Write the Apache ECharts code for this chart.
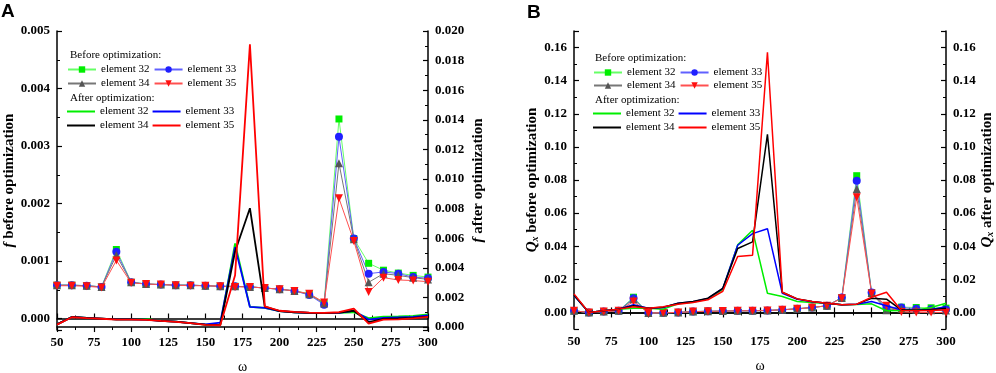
<!DOCTYPE html>
<html>
<head>
<meta charset="utf-8">
<script src="https://cdn.jsdelivr.net/npm/echarts@6/dist/echarts.min.js"></script>
<style>
  html, body { margin: 0; padding: 0; background: #fff; }
  #chart { width: 996px; height: 373px; }
</style>
</head>
<body>
<div id="chart"></div>
<script>
// angular frequency samples
const omega = [50, 60, 70, 80, 90, 100, 110, 120, 130, 140, 150, 160, 170, 180, 190, 200, 210, 220, 230, 240, 250, 260, 270, 280, 290, 300]

// panel A, f before optimization (left axis)
const fBefore32 = [0.00058, 0.00058, 0.00057, 0.00055, 0.00120, 0.00063, 0.00060, 0.00059, 0.00058, 0.00058, 0.00057, 0.00056, 0.00056, 0.00055, 0.00053, 0.00051, 0.00048, 0.00043, 0.00027, 0.00347, 0.00139, 0.00096, 0.00084, 0.00079, 0.00075, 0.00072]
const fBefore33 = [0.00058, 0.00058, 0.00057, 0.00055, 0.00116, 0.00063, 0.00060, 0.00059, 0.00058, 0.00058, 0.00057, 0.00056, 0.00056, 0.00055, 0.00053, 0.00051, 0.00048, 0.00041, 0.00024, 0.00316, 0.00139, 0.00078, 0.00081, 0.00078, 0.00072, 0.00070]
const fBefore34 = [0.00058, 0.00058, 0.00057, 0.00055, 0.00110, 0.00063, 0.00060, 0.00059, 0.00058, 0.00058, 0.00057, 0.00056, 0.00056, 0.00055, 0.00053, 0.00051, 0.00048, 0.00042, 0.00026, 0.00270, 0.00138, 0.00063, 0.00078, 0.00075, 0.00071, 0.00068]
const fBefore35 = [0.00057, 0.00057, 0.00056, 0.00054, 0.00101, 0.00062, 0.00060, 0.00059, 0.00058, 0.00057, 0.00057, 0.00056, 0.00055, 0.00055, 0.00053, 0.00051, 0.00048, 0.00043, 0.00028, 0.00209, 0.00135, 0.00046, 0.00071, 0.00067, 0.00066, 0.00064]

// panel A, f after optimization (right axis)
const fAfter32 = [0.00018, 0.00068, 0.00061, 0.00057, 0.00052, 0.00052, 0.00055, 0.00042, 0.00036, 0.00027, 0.00016, 0.00016, 0.00565, 0.00136, 0.00129, 0.00108, 0.00100, 0.00096, 0.00094, 0.00096, 0.00100, 0.00060, 0.00070, 0.00072, 0.00075, 0.00085]
const fAfter33 = [0.00018, 0.00068, 0.00061, 0.00057, 0.00052, 0.00052, 0.00050, 0.00042, 0.00036, 0.00027, 0.00018, 0.00030, 0.00540, 0.00136, 0.00129, 0.00108, 0.00100, 0.00096, 0.00094, 0.00096, 0.00110, 0.00050, 0.00062, 0.00065, 0.00068, 0.00078]
const fAfter34 = [0.00018, 0.00068, 0.00061, 0.00057, 0.00052, 0.00052, 0.00050, 0.00042, 0.00036, 0.00027, 0.00016, 0.00014, 0.00510, 0.00803, 0.00138, 0.00108, 0.00100, 0.00096, 0.00094, 0.00097, 0.00110, 0.00034, 0.00055, 0.00058, 0.00062, 0.00070]
const fAfter35 = [0.00016, 0.00066, 0.00060, 0.00056, 0.00050, 0.00050, 0.00049, 0.00041, 0.00035, 0.00026, 0.00014, 0.00012, 0.00350, 0.01910, 0.00140, 0.00110, 0.00102, 0.00098, 0.00096, 0.00100, 0.00125, 0.00023, 0.00050, 0.00052, 0.00058, 0.00068]

// panel B, Qx before optimization
const qBefore32 = [0.0010, 0.0000, 0.0006, 0.0010, 0.0092, -0.0004, -0.0002, 0.0000, 0.0005, 0.0007, 0.0008, 0.0010, 0.0010, 0.0012, 0.0016, 0.0022, 0.0030, 0.0040, 0.0090, 0.0826, 0.0120, 0.0020, 0.0032, 0.0030, 0.0028, 0.0026]
const qBefore33 = [0.0010, 0.0000, 0.0006, 0.0010, 0.0086, -0.0004, -0.0002, 0.0000, 0.0005, 0.0007, 0.0008, 0.0010, 0.0010, 0.0012, 0.0016, 0.0022, 0.0030, 0.0040, 0.0090, 0.0796, 0.0120, 0.0032, 0.0030, 0.0022, 0.0020, 0.0018]
const qBefore34 = [0.0010, 0.0000, 0.0006, 0.0010, 0.0080, -0.0004, -0.0002, 0.0000, 0.0005, 0.0007, 0.0008, 0.0010, 0.0010, 0.0012, 0.0016, 0.0022, 0.0030, 0.0040, 0.0088, 0.0746, 0.0118, 0.0014, 0.0022, 0.0016, 0.0014, 0.0012]
const qBefore35 = [0.0010, 0.0000, 0.0006, 0.0010, 0.0066, -0.0004, -0.0002, 0.0000, 0.0005, 0.0007, 0.0008, 0.0010, 0.0010, 0.0012, 0.0016, 0.0022, 0.0030, 0.0040, 0.0086, 0.0696, 0.0115, 0.0040, 0.0003, 0.0000, 0.0000, 0.0000]

// panel B, Qx after optimization
const qAfter32 = [0.0104, 0.0000, 0.0010, 0.0020, 0.0026, 0.0026, 0.0020, 0.0052, 0.0062, 0.0082, 0.0140, 0.0408, 0.0496, 0.0116, 0.0096, 0.0066, 0.0060, 0.0054, 0.0046, 0.0048, 0.0052, 0.0010, 0.0012, 0.0014, 0.0030, 0.0055]
const qAfter33 = [0.0102, 0.0000, 0.0010, 0.0020, 0.0046, 0.0026, 0.0030, 0.0055, 0.0064, 0.0085, 0.0145, 0.0406, 0.0476, 0.0506, 0.0116, 0.0080, 0.0064, 0.0056, 0.0046, 0.0050, 0.0066, 0.0040, 0.0014, 0.0012, 0.0016, 0.0036]
const qAfter34 = [0.0106, 0.0000, 0.0010, 0.0020, 0.0040, 0.0026, 0.0032, 0.0056, 0.0066, 0.0086, 0.0146, 0.0386, 0.0426, 0.1076, 0.0122, 0.0082, 0.0066, 0.0056, 0.0046, 0.0050, 0.0086, 0.0080, 0.0016, 0.0014, 0.0016, 0.0026]
const qAfter35 = [0.0112, 0.0000, 0.0010, 0.0020, 0.0035, 0.0026, 0.0035, 0.0050, 0.0060, 0.0076, 0.0128, 0.0338, 0.0346, 0.1572, 0.0122, 0.0082, 0.0066, 0.0056, 0.0046, 0.0050, 0.0092, 0.0122, 0.0012, 0.0010, 0.0012, 0.0016]

const elements = ['32', '33', '34', '35']

const SERIF = '"Liberation Serif", "Times New Roman", serif'
const colorsBefore = { '32': '#00ee00', '33': '#2020ff', '34': '#555555', '35': '#ff1010' }
const colorsAfter = { '32': '#00ee00', '33': '#0000ff', '34': '#000000', '35': '#ff0000' }
const lineBefore = { '32': '#66ff66', '33': '#6060ff', '34': '#777777', '35': '#ff5050' }
const symbols = { '32': 'rect', '33': 'circle', '34': 'triangle', '35': 'triangle' }

const pair = (ys) => omega.map((x, i) => [x, ys[i]])

const chart = echarts.init(document.getElementById('chart'))

const axisLine = { lineStyle: { color: '#000', width: 1.5 } }
const tick = { inside: true, length: 5, lineStyle: { color: '#000', width: 1.2 } }
const minor = { show: true, splitNumber: 2, length: 3, lineStyle: { color: '#000', width: 1 } }
const tickFont = { color: '#000', fontFamily: SERIF, fontWeight: 'bold', fontSize: 13 }
const nameFont = { color: '#000', fontFamily: SERIF, fontWeight: 'bold', fontSize: 15 }

function xAxisFor(grid, pos) {
  return {
    type: 'value', gridIndex: grid, position: pos, min: 50, max: 300, interval: 25,
    name: pos === 'bottom' ? 'ω' : '', nameLocation: 'middle', nameGap: 30,
    nameTextStyle: { color: '#000', fontFamily: SERIF, fontSize: 14 },
    axisLine, axisTick: tick, minorTick: minor,
    axisLabel: { show: pos === 'bottom', margin: 6, ...tickFont },
    splitLine: { show: false }
  }
}

function yAxisFor(grid, pos, min, max, split, digits, name, rich, gap) {
  return {
    type: 'value', gridIndex: grid, position: pos, min, max, splitNumber: split,
    name, nameLocation: 'middle', nameRotate: 90, nameGap: gap,
    nameTextStyle: { ...nameFont, rich },
    axisLine: { show: true, ...axisLine }, axisTick: tick, minorTick: minor,
    axisLabel: {
      margin: 7, showMinLabel: false, showMaxLabel: digits === 3,
      formatter: (v) => v.toFixed(digits), ...tickFont
    },
    splitLine: { show: false }
  }
}

const richF = { i: { ...nameFont, fontStyle: 'italic' } }
const richQ = {
  i: { ...nameFont, fontStyle: 'italic' },
  s: { ...nameFont, fontStyle: 'italic', fontSize: 10, verticalAlign: 'bottom' }
}

function beforeSeries(panel, key, data, xi, yi) {
  return {
    name: panel + ' before ' + key, type: 'line', data: pair(data),
    xAxisIndex: xi, yAxisIndex: yi,
    symbol: symbols[key], symbolSize: key === '32' ? 7 : 8,
    symbolRotate: key === '35' ? 180 : 0,
    itemStyle: { color: colorsBefore[key] },
    lineStyle: { color: lineBefore[key], width: 1 },
    animation: false, z: 2
  }
}

function afterSeries(panel, key, data, xi, yi, w) {
  return {
    name: panel + ' after ' + key, type: 'line', data: pair(data),
    xAxisIndex: xi, yAxisIndex: yi, symbol: 'none',
    itemStyle: { color: colorsAfter[key] },
    lineStyle: { color: colorsAfter[key], width: w },
    animation: false, z: 3
  }
}

function legendRow(names, left, centerY, plain) {
  const row = {
    data: names, left, top: centerY - 5, orient: 'horizontal', padding: 0,
    itemWidth: 28, itemHeight: plain ? 2 : 8, itemGap: 4, selectedMode: false,
    formatter: (n) => 'element ' + n.slice(-2),
    textStyle: { color: '#000', fontFamily: SERIF, fontSize: 11 }
  }
  if (plain) {
    row.icon = 'rect'
    row.top = centerY - 6
  }
  return row
}

function header(text, left, centerY) {
  return { type: 'text', left, top: centerY - 5, style: { text, fill: '#000', font: '11px ' + SERIF } }
}

const fBefore = { '32': fBefore32, '33': fBefore33, '34': fBefore34, '35': fBefore35 }
const fAfter = { '32': fAfter32, '33': fAfter33, '34': fAfter34, '35': fAfter35 }
const qBefore = { '32': qBefore32, '33': qBefore33, '34': qBefore34, '35': qBefore35 }
const qAfter = { '32': qAfter32, '33': qAfter33, '34': qAfter34, '35': qAfter35 }

const series = []
elements.forEach(k => series.push(beforeSeries('A', k, fBefore[k], 0, 0)))
elements.forEach(k => series.push(afterSeries('A', k, fAfter[k], 0, 1, 1.8)))
elements.forEach(k => series.push(beforeSeries('B', k, qBefore[k], 2, 2)))
elements.forEach(k => series.push(afterSeries('B', k, qAfter[k], 2, 3, 1.5)))

const option = {
  backgroundColor: '#fff',
  animation: false,
  grid: [
    { left: 57, right: 568, top: 31, bottom: 43, containLabel: false, outerBoundsMode: 'none' },
    { left: 574, right: 50, top: 31, bottom: 44, containLabel: false, outerBoundsMode: 'none' }
  ],
  xAxis: [xAxisFor(0, 'bottom'), xAxisFor(0, 'top'), xAxisFor(1, 'bottom'), xAxisFor(1, 'top')],
  yAxis: [
    yAxisFor(0, 'left', -0.0002, 0.005, 5, 3, '{i|f} before optimization', richF, 34),
    yAxisFor(0, 'right', -0.0002, 0.020, 10, 3, '{i|f} after optimization', richF, 43),
    yAxisFor(1, 'left', -0.01, 0.17, 9, 2, '{i|Q}{s|x} before optimization', richQ, 34),
    yAxisFor(1, 'right', -0.01, 0.17, 9, 2, '{i|Q}{s|x} after optimization', richQ, 34)
  ],
  legend: [
    legendRow(['A before 32', 'A before 33'], 67, 69, false),
    legendRow(['A before 34', 'A before 35'], 67, 83, false),
    legendRow(['A after 32', 'A after 33'], 67, 112, true),
    legendRow(['A after 34', 'A after 35'], 67, 126, true),
    legendRow(['B before 32', 'B before 33'], 593, 72, false),
    legendRow(['B before 34', 'B before 35'], 593, 85, false),
    legendRow(['B after 32', 'B after 33'], 593, 114, true),
    legendRow(['B after 34', 'B after 35'], 593, 128, true)
  ],
  graphic: [
    header('Before optimization:', 70, 55),
    header('After optimization:', 70, 98),
    header('Before optimization:', 595, 58),
    header('After optimization:', 595, 100),
    { type: 'text', left: 1, top: 2, style: { text: 'A', fill: '#000', font: 'bold 19px "Liberation Sans", Arial, sans-serif' } },
    { type: 'text', left: 527, top: 3, style: { text: 'B', fill: '#000', font: 'bold 19px "Liberation Sans", Arial, sans-serif' } }
  ],
  series
}

chart.setOption(option)
</script>
</body>
</html>
